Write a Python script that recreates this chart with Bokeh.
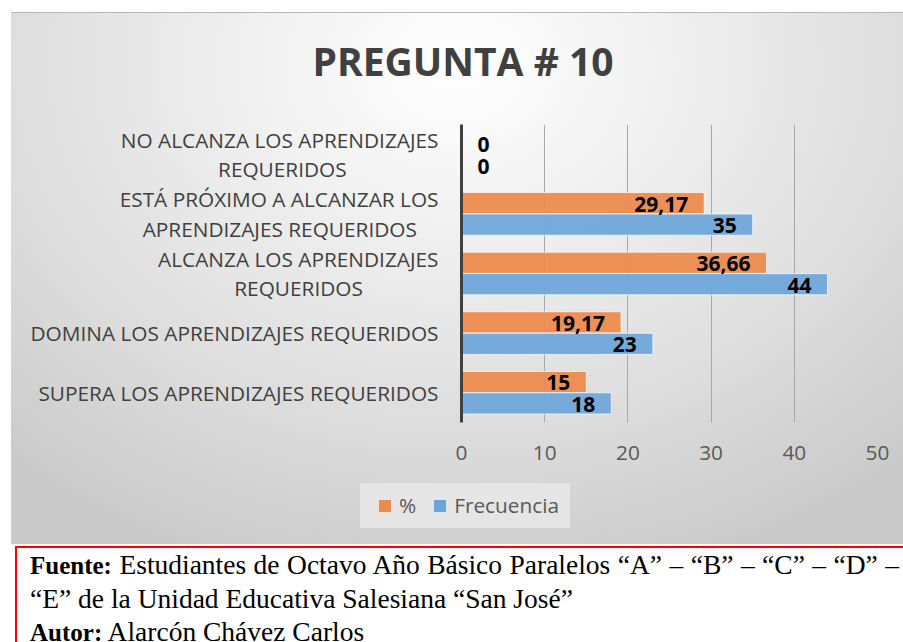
from bokeh.plotting import figure
from bokeh.models import (ColumnDataSource, FactorRange, Range1d, FixedTicker,
                          Div, Title)
from bokeh.transform import dodge
from bokeh.layouts import column
from bokeh.embed import file_html
from bokeh.resources import INLINE
from bokeh.core.properties import field

# ---------------- data ----------------
categories = [
    "SUPERA LOS APRENDIZAJES REQUERIDOS",
    "DOMINA LOS APRENDIZAJES REQUERIDOS",
    "ALCANZA LOS APRENDIZAJES\nREQUERIDOS",
    "ESTÁ PRÓXIMO A ALCANZAR LOS\nAPRENDIZAJES REQUERIDOS",
    "NO ALCANZA LOS APRENDIZAJES\nREQUERIDOS",
]
porcentaje = [15, 19.17, 36.66, 29.17, 0]
frecuencia = [18, 23, 44, 35, 0]
x_ticks = [0, 10, 20, 30, 40, 50]
series_names = ["%", "Frecuencia"]
title_text = "PREGUNTA # 10"
fuente_label = "Fuente:"
fuente_line1 = "Estudiantes de Octavo Año Básico Paralelos “A” – “B” – “C” – “D” –"
fuente_line2 = "“E” de la Unidad Educativa Salesiana “San José”"
autor_label = "Autor:"
autor_text = "Alarcón Chávez Carlos"

ORANGE = "#ED8B4E"
BLUE = "#6FA6DA"
FONT = "Open Sans"

# approximate Open Sans advance widths (1/1000 em) used to centre the lines
# of the two-line category labels, as the original chart does
_W = {"A": 633, "Á": 633, "C": 631, "D": 729, "E": 556, "I": 279, "J": 267,
      "L": 519, "M": 903, "N": 754, "O": 779, "Ó": 779, "P": 602, "Q": 779,
      "R": 618, "S": 549, "T": 553, "U": 728, "X": 577, "Z": 572, " ": 260}


def centre_lines(label):
    lines = label.split("\n")
    if len(lines) == 1:
        return label
    widths = [sum(_W.get(c, 600) for c in ln) for ln in lines]
    wmax = max(widths)
    return "\n".join(ln + "\u00a0" * int(round((wmax - w) / 2 / 260))
                     for ln, w in zip(lines, widths))


def fmt(v):
    return str(int(v)) if float(v).is_integer() else f"{v:.2f}".replace(".", ",")


y_factors = [centre_lines(c) for c in categories]

src = ColumnDataSource(dict(
    cat=y_factors,
    pct=porcentaje,
    freq=frecuencia,
    pct_lbl=[fmt(v) for v in porcentaje],
    freq_lbl=[fmt(v) for v in frecuencia],
    pct_align=["right" if v > 0 else "left" for v in porcentaje],
    freq_align=["right" if v > 0 else "left" for v in frecuencia],
    pct_off=[-16 if v > 0 else 16 for v in porcentaje],
    freq_off=[-16 if v > 0 else 16 for v in frecuencia],
))

bg = ("radial-gradient(ellipse 75% 100% at 50% 10%, #ffffff 0%, #f1f1f1 30%, "
      "#dcdcdc 70%, #cacaca 100%)")

p = figure(
    y_range=FactorRange(factors=y_factors),
    x_range=Range1d(0, 50),
    width=892, height=532,
    output_backend="svg", toolbar_location=None,
    min_border_left=450, min_border_right=26,
    min_border_top=112, min_border_bottom=122,
    margin=(12, 0, 0, 11),
    styles={"background": bg, "box-shadow": "inset 0 1px 0 #b8b8b8"},
)
p.border_fill_alpha = 0
p.background_fill_alpha = 0
p.outline_line_color = None

bar_h = 0.355
r_pct = p.hbar(y=dodge("cat", 0.18, range=p.y_range), right="pct", left=0,
               height=bar_h, source=src, fill_color=ORANGE, fill_alpha=0.95,
               line_color="white", line_alpha=0.7, line_width=1)
r_freq = p.hbar(y=dodge("cat", -0.18, range=p.y_range), right="freq", left=0,
                height=bar_h, source=src, fill_color=BLUE, fill_alpha=0.95,
                line_color="white", line_alpha=0.7, line_width=1)

p.text(x="pct", y=dodge("cat", 0.18, range=p.y_range), text="pct_lbl",
       source=src, text_align=field("pct_align"), x_offset="pct_off", y_offset=1,
       text_baseline="middle", text_font={"value": FONT}, text_font_style="bold",
       text_font_size="21px", text_color="black")
p.text(x="freq", y=dodge("cat", -0.18, range=p.y_range), text="freq_lbl",
       source=src, text_align=field("freq_align"), x_offset="freq_off", y_offset=1,
       text_baseline="middle", text_font={"value": FONT}, text_font_style="bold",
       text_font_size="21px", text_color="black")

# grid
p.ygrid.grid_line_color = None
p.xgrid.grid_line_color = "#a8a8a8"
p.xgrid.grid_line_width = 1
p.xgrid.ticker = FixedTicker(ticks=x_ticks)

# axes
xa = p.xaxis[0]
xa.ticker = FixedTicker(ticks=x_ticks)
xa.axis_line_color = None
xa.major_tick_line_color = None
xa.minor_tick_line_color = None
xa.major_label_standoff = 17
xa.major_label_text_font = FONT
xa.major_label_text_font_size = "20.8px"
xa.major_label_text_color = "#595959"

ya = p.yaxis[0]
ya.axis_line_color = "#404040"
ya.axis_line_width = 3
ya.major_tick_line_color = None
ya.minor_tick_line_color = None
ya.major_label_standoff = 17
ya.major_label_text_font = FONT
ya.major_label_text_font_size = "20.8px"
ya.major_label_text_color = "#404040"
ya.major_label_text_line_height = 1.05

# title: an empty spacer panel next to the frame, the real title above it
p.add_layout(Title(text=" ", text_font_size="1px", standoff=30), "above")
p.add_layout(Title(text=title_text, align="left", offset=-149, standoff=10,
                   text_font=FONT, text_font_size="39px", text_font_style="bold",
                   text_color="#404040"), "above")

# legend (HTML overlay placed over the bottom of the chart area)
swatch = ("display:inline-block;width:14px;height:14px;box-sizing:border-box;"
          "border:1px solid rgba(255,255,255,0.75);margin-right:7px;background:{};")
legend_html = (
    '<div style="box-sizing:border-box;width:210px;height:45px;'
    'background:rgba(236,236,236,0.7);display:flex;align-items:center;'
    f'padding-left:18px;font-family:\'{FONT}\';font-size:20.8px;color:#595959;'
    'white-space:nowrap;">'
    f'<span style="{swatch.format(ORANGE)}"></span><span>{series_names[0]}</span>'
    f'<span style="{swatch.format(BLUE)}margin-left:17px;"></span>'
    f'<span>{series_names[1]}</span></div>'
)
legend_div = Div(text=legend_html, width=210, height=45, margin=(-61, 0, 0, 360),
                 styles={"position": "relative", "z-index": "10"})

caption_html = (
    '<div style="box-sizing:border-box;width:888px;height:100px;'
    'border-top:2px solid #ff0000;border-left:2px solid #ff0000;'
    'padding-left:13px;font-family:\'Liberation Serif\',\'Times New Roman\',serif;'
    'font-size:27.5px;line-height:33px;color:#000;">'
    f'<div style="text-align:justify;text-align-last:justify;padding-right:4px;">'
    f'<b style="font-size:25px;">{fuente_label}</b> {fuente_line1}</div>'
    f'<div>{fuente_line2}</div>'
    f'<div><b style="font-size:25px;">{autor_label}</b> {autor_text}</div>'
    '</div>'
)
caption = Div(text=caption_html, width=888, height=96, margin=(18, 0, 0, 15),
              styles={"overflow": "hidden"})

layout = column(p, legend_div, caption, spacing=0)

html = file_html(layout, INLINE, title="PREGUNTA # 10")
html = html.replace("<head>", "<head>\n<style>html,body{overflow:hidden;}</style>", 1)
open("out.html", "w").write(html)
